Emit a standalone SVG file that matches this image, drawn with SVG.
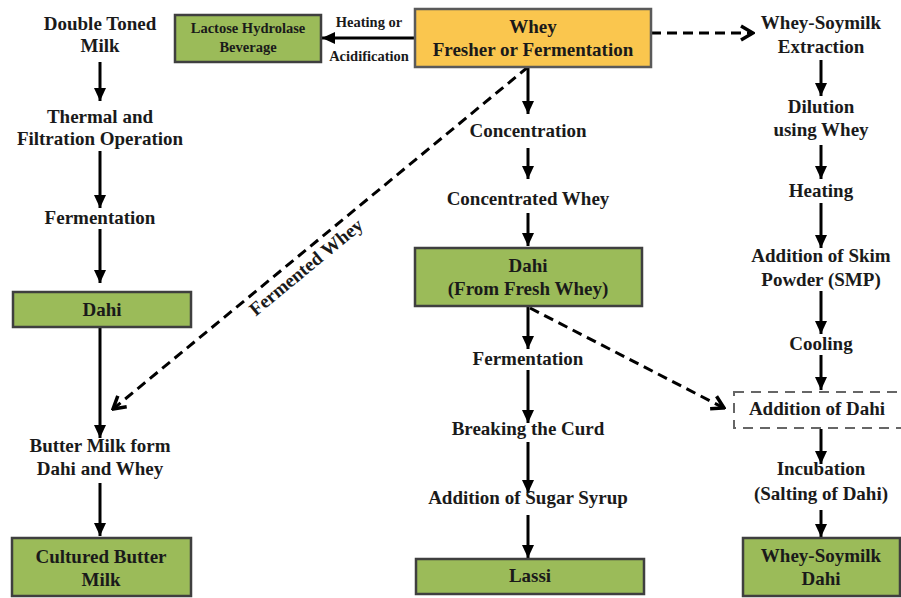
<svg xmlns="http://www.w3.org/2000/svg" width="901" height="598" viewBox="0 0 901 598">
<defs>
<style>
text{font-family:"Liberation Serif","Times New Roman",serif;font-weight:bold;fill:#1a1a1a;text-anchor:middle;}
.t{font-size:19px;}
.s{font-size:14.5px;}
.box{fill:#9BBB59;stroke:#3f3f3f;stroke-width:2.5;}
.ybox{fill:#FAC64E;stroke:#5a5a5a;stroke-width:2.5;}
.dbox{fill:none;stroke:#666;stroke-width:2;stroke-dasharray:10 7;}
.a{stroke:#000;stroke-width:3;fill:none;marker-end:url(#ah);}
.d{stroke:#000;stroke-width:3;fill:none;stroke-dasharray:10 6;marker-end:url(#oh);}
</style>
<marker id="ah" markerUnits="userSpaceOnUse" markerWidth="14" markerHeight="14" viewBox="0 0 14 14" refX="13" refY="7" orient="auto">
<path d="M0,1 L13,7 L0,13 Z" fill="#000"/>
</marker>
<marker id="oh" markerUnits="userSpaceOnUse" markerWidth="16" markerHeight="18" viewBox="0 0 16 18" refX="14" refY="9" orient="auto">
<path d="M2,2 L14,9 L2,16" fill="none" stroke="#000" stroke-width="3.5"/>
</marker>
</defs>
<rect width="901" height="598" fill="#fff"/>

<g id="connectors">
<line class="a" x1="100" y1="62" x2="100" y2="101"/>
<line class="a" x1="100" y1="151" x2="100" y2="208"/>
<line class="a" x1="100" y1="229" x2="100" y2="283"/>
<line class="a" x1="100" y1="328" x2="100" y2="438"/>
<line class="a" x1="100" y1="483" x2="100" y2="536"/>
<line class="a" x1="415" y1="38" x2="322" y2="38"/>
<line class="d" x1="651" y1="33" x2="753" y2="33"/>
<line class="a" x1="528" y1="67" x2="528" y2="114"/>
<line class="a" x1="528" y1="148" x2="528" y2="179"/>
<line class="a" x1="528" y1="213" x2="528" y2="246"/>
<line class="a" x1="528" y1="307" x2="528" y2="349"/>
<line class="a" x1="528" y1="370" x2="528" y2="423"/>
<line class="a" x1="528" y1="442" x2="528" y2="493"/>
<line class="a" x1="528" y1="515" x2="528" y2="558"/>
<line class="d" x1="528" y1="67" x2="113" y2="409"/>
<line class="d" x1="530" y1="308" x2="724" y2="408"/>
<line class="a" x1="821" y1="60" x2="821" y2="96"/>
<line class="a" x1="821" y1="145" x2="821" y2="179"/>
<line class="a" x1="821" y1="203" x2="821" y2="248"/>
<line class="a" x1="821" y1="291" x2="821" y2="334"/>
<line class="a" x1="821" y1="355" x2="821" y2="390"/>
<line class="a" x1="821" y1="429" x2="821" y2="464"/>
<line class="a" x1="821" y1="510" x2="821" y2="537"/>
<text class="s" x="369" y="27">Heating or</text>
<text class="s" x="369" y="61">Acidification</text>
<text class="t" transform="translate(310,272) rotate(-39.5)">Fermented Whey</text>
</g>

<g id="n-double-toned"><text class="t" x="100" y="30">Double Toned</text><text class="t" x="100" y="52">Milk</text></g>
<g id="n-thermal"><text class="t" x="100" y="123">Thermal and</text><text class="t" x="100" y="145">Filtration Operation</text></g>
<g id="n-fermentation1"><text class="t" x="100" y="224">Fermentation</text></g>
<g id="n-dahi1"><rect class="box" x="13" y="292" width="178" height="35"/><text class="t" x="102" y="316">Dahi</text></g>
<g id="n-buttermilk"><text class="t" x="100" y="452">Butter Milk form</text><text class="t" x="100" y="475">Dahi and Whey</text></g>
<g id="n-cultured"><rect class="box" x="12" y="538" width="179" height="58"/><text class="t" x="101" y="563">Cultured Butter</text><text class="t" x="101" y="586">Milk</text></g>

<g id="n-lactose"><rect class="box" x="175" y="15" width="146" height="47"/><text class="s" x="248" y="33">Lactose Hydrolase</text><text class="s" x="248" y="52">Beverage</text></g>
<g id="n-whey"><rect class="ybox" x="415" y="9" width="236" height="58"/><text class="t" x="533" y="33">Whey</text><text class="t" x="533" y="56">Fresher or Fermentation</text></g>
<g id="n-concentration"><text class="t" x="528" y="137">Concentration</text></g>
<g id="n-concwhey"><text class="t" x="528" y="205">Concentrated Whey</text></g>
<g id="n-dahi2"><rect class="box" x="415" y="248" width="227" height="58"/><text class="t" x="528" y="272">Dahi</text><text class="t" x="528" y="295">(From Fresh Whey)</text></g>
<g id="n-fermentation2"><text class="t" x="528" y="365">Fermentation</text></g>
<g id="n-breaking"><text class="t" x="528" y="435">Breaking the Curd</text></g>
<g id="n-sugar"><text class="t" x="528" y="504">Addition of Sugar Syrup</text></g>
<g id="n-lassi"><rect class="box" x="416" y="559" width="228" height="35"/><text class="t" x="530" y="582">Lassi</text></g>

<g id="n-extraction"><text class="t" x="821" y="29">Whey-Soymilk</text><text class="t" x="821" y="53">Extraction</text></g>
<g id="n-dilution"><text class="t" x="821" y="113">Dilution</text><text class="t" x="821" y="136">using Whey</text></g>
<g id="n-heating"><text class="t" x="821" y="197">Heating</text></g>
<g id="n-smp"><text class="t" x="821" y="262">Addition of Skim</text><text class="t" x="821" y="286">Powder (SMP)</text></g>
<g id="n-cooling"><text class="t" x="821" y="350">Cooling</text></g>
<g id="n-adddahi"><rect class="dbox" x="734" y="392" width="170" height="36"/><text class="t" x="817" y="415">Addition of Dahi</text></g>
<g id="n-incubation"><text class="t" x="821" y="475">Incubation</text><text class="t" x="821" y="500">(Salting of Dahi)</text></g>
<g id="n-wsdahi"><rect class="box" x="743" y="538" width="157" height="58"/><text class="t" x="821" y="562">Whey-Soymilk</text><text class="t" x="821" y="585">Dahi</text></g>
</svg>
